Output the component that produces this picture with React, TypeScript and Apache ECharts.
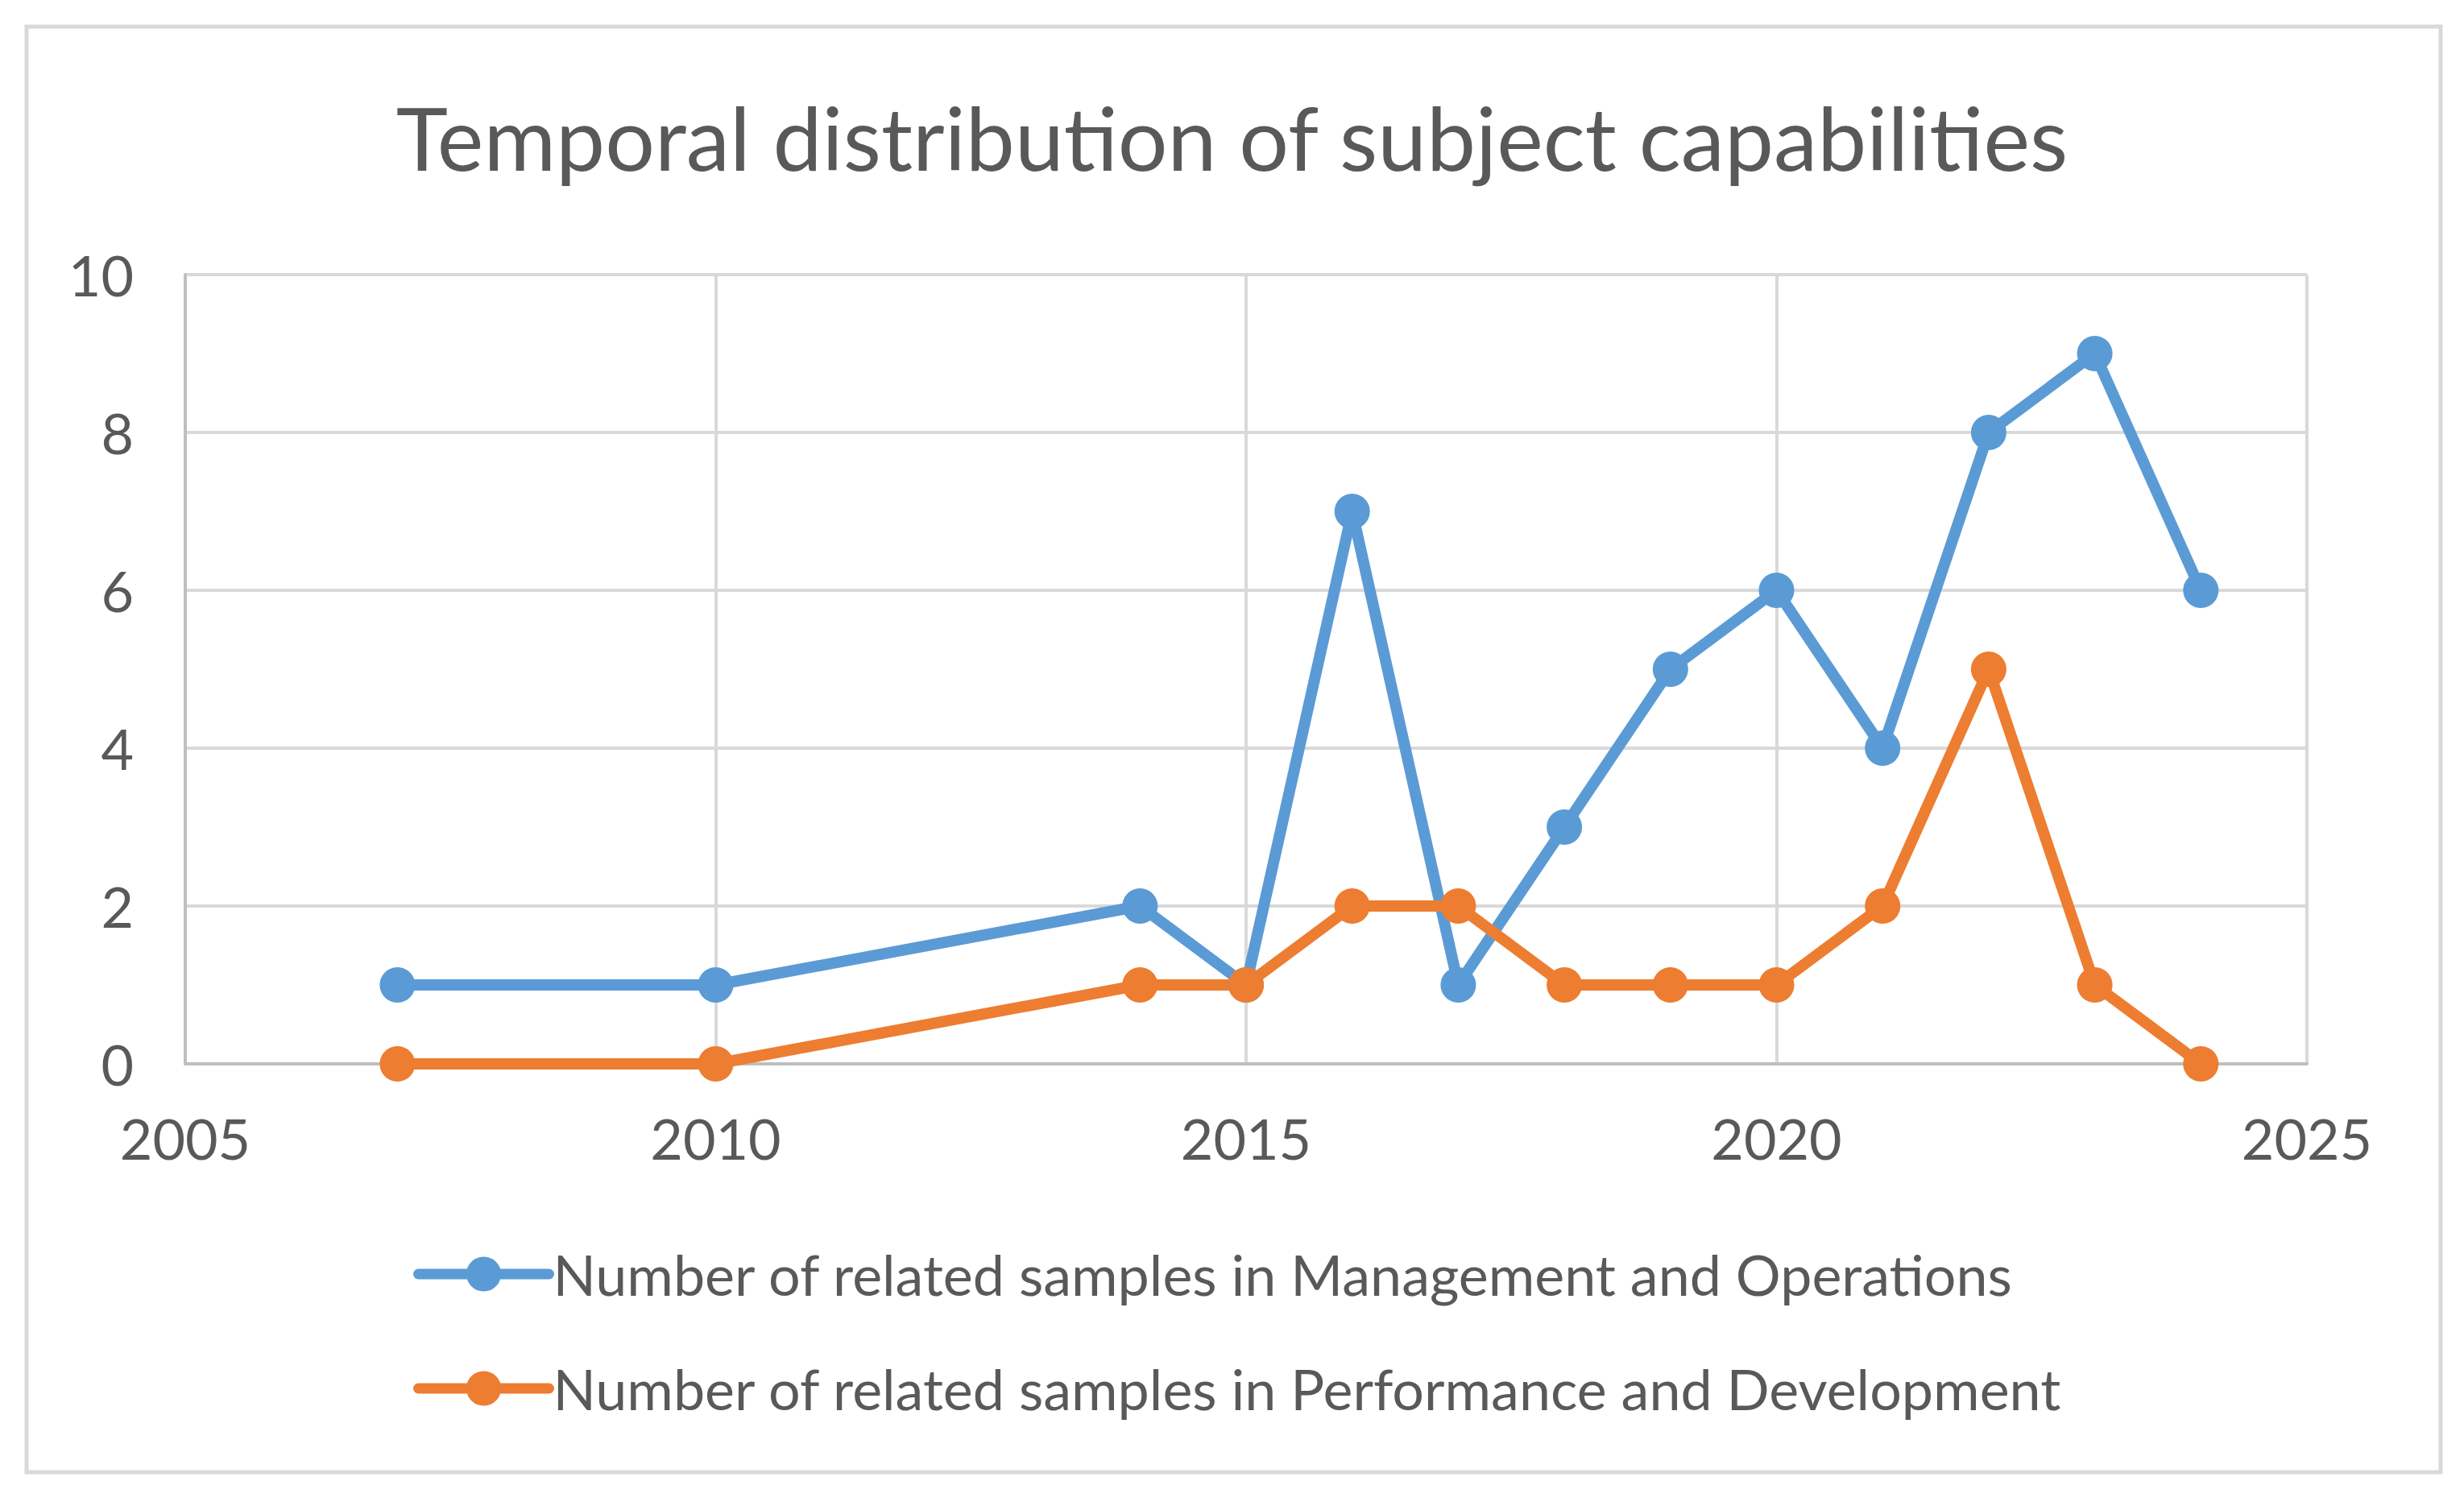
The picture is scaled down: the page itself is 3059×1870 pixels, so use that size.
import React, { useEffect, useRef } from "react";
import * as echarts from "echarts";

const titleText = "Temporal distribution of subject capabilities";
const years = [2007, 2010, 2014, 2015, 2016, 2017, 2018, 2019, 2020, 2021, 2022, 2023, 2024];
const managementValues = [1, 1, 2, 1, 7, 1, 3, 5, 6, 4, 8, 9, 6];
const performanceValues = [0, 0, 1, 1, 2, 2, 1, 1, 1, 2, 5, 1, 0];
const seriesNames = [
  "Number of related samples in Management and Operations",
  "Number of related samples in Performance and Development",
];
const xMin = 2005;
const xMax = 2025;
const xStep = 5;
const yMin = 0;
const yMax = 10;
const yStep = 2;

const FONT = "Lato";
const TEXT = "#595959";

export default function App() {
  const ref = useRef<HTMLDivElement>(null);
  useEffect(() => {
    document.body.style.margin = "0";
    if (!ref.current) return;
    const chart = echarts.init(ref.current, undefined, { renderer: "svg" });
    const mk = (vals: number[]) => years.map((y, i) => [y, vals[i]]);
    chart.setOption({
      animation: false,
      backgroundColor: "#ffffff",
      title: {
        text: titleText,
        left: "center",
        top: 110,
        textStyle: { fontFamily: FONT, fontSize: 109, fontWeight: "normal", color: TEXT },
      },
      graphic: [
        {
          type: "rect",
          shape: { x: 33, y: 33, width: 2997, height: 1795 },
          style: { fill: "none", stroke: "#d9d9d9", lineWidth: 5 },
          silent: true,
        },
      ],
      grid: { left: 230, right: 195, top: 341, bottom: 549, containLabel: false },
      xAxis: {
        type: "value",
        min: xMin,
        max: xMax,
        interval: xStep,
        axisLine: { show: true, onZero: false, lineStyle: { color: "#bfbfbf", width: 4 } },
        axisTick: { show: false },
        splitLine: { show: true, lineStyle: { color: "#d9d9d9", width: 4 } },
        axisLabel: {
          fontFamily: FONT,
          fontSize: 70,
          color: TEXT,
          margin: 57,
          formatter: (v: number) => String(v),
        },
      },
      yAxis: {
        type: "value",
        min: yMin,
        max: yMax,
        interval: yStep,
        axisLine: { show: true, lineStyle: { color: "#bfbfbf", width: 4 } },
        axisTick: { show: false },
        splitLine: { show: true, lineStyle: { color: "#d9d9d9", width: 4 } },
        axisLabel: { fontFamily: FONT, fontSize: 70, color: TEXT, margin: 64 },
      },
      legend: {
        orient: "vertical",
        left: 508,
        top: 1537,
        itemWidth: 162,
        itemHeight: 54,
        itemGap: 62,
        lineStyle: { width: 13, cap: "round" },
        textStyle: { fontFamily: FONT, fontSize: 70, color: TEXT, lineHeight: 80, padding: [0, 0, 0, 0] },
        data: seriesNames,
      },
      series: [
        {
          name: seriesNames[0],
          type: "line",
          data: mk(managementValues),
          symbol: "circle",
          symbolSize: 44,
          clip: false,
          lineStyle: { width: 14, color: "#5B9BD5" },
          itemStyle: { color: "#5B9BD5" },
        },
        {
          name: seriesNames[1],
          type: "line",
          data: mk(performanceValues),
          symbol: "circle",
          symbolSize: 44,
          clip: false,
          lineStyle: { width: 14, color: "#ED7D31" },
          itemStyle: { color: "#ED7D31" },
        },
      ],
    });
    return () => chart.dispose();
  }, []);
  return <div ref={ref} style={{ width: 3059, height: 1870 }} />;
}
